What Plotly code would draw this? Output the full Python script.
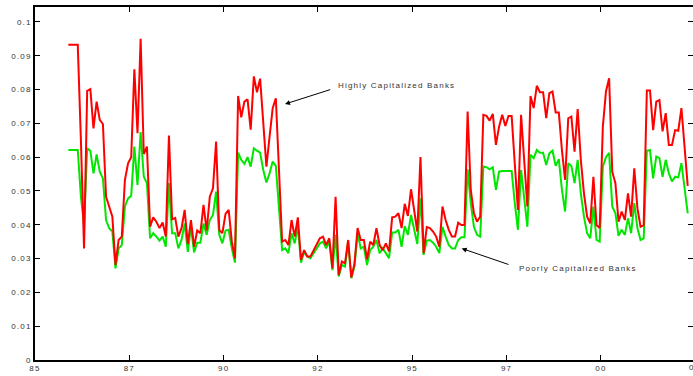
import plotly.graph_objects as go

# Monthly bank-level ratio series, starting late 1985
start_year = 1985 + 10.6 / 12

highly_capitalized = [
    0.0932, 0.0932, 0.0932, 0.0932, 0.0650, 0.0330, 0.0796, 0.0801, 0.0685, 0.0764,
    0.0710, 0.0698, 0.0483, 0.0454, 0.0424, 0.0281, 0.0355, 0.0365, 0.0533, 0.0582,
    0.0600, 0.0860, 0.0671, 0.0950, 0.0609, 0.0631, 0.0394, 0.0422, 0.0409, 0.0390,
    0.0407, 0.0365, 0.0664, 0.0416, 0.0420, 0.0365, 0.0390, 0.0444, 0.0343, 0.0414,
    0.0335, 0.0383, 0.0375, 0.0459, 0.0383, 0.0483, 0.0508, 0.0646, 0.0385, 0.0375,
    0.0432, 0.0444, 0.0350, 0.0301, 0.0781, 0.0718, 0.0764, 0.0771, 0.0681, 0.0839,
    0.0792, 0.0832, 0.0700, 0.0572, 0.0660, 0.0745, 0.0774, 0.0562, 0.0350, 0.0355,
    0.0340, 0.0414, 0.0365, 0.0422, 0.0296, 0.0325, 0.0306, 0.0306, 0.0325, 0.0345,
    0.0360, 0.0365, 0.0340, 0.0360, 0.0271, 0.0483, 0.0251, 0.0291, 0.0286, 0.0355,
    0.0244, 0.0284, 0.0390, 0.0355, 0.0355, 0.0298, 0.0350, 0.0340, 0.0390, 0.0340,
    0.0325, 0.0345, 0.0321, 0.0422, 0.0424, 0.0434, 0.0390, 0.0462, 0.0426, 0.0505,
    0.0439, 0.0380, 0.0600, 0.0316, 0.0393, 0.0390, 0.0380, 0.0365, 0.0335, 0.0454,
    0.0414, 0.0385, 0.0365, 0.0365, 0.0406, 0.0399, 0.0399, 0.0735, 0.0503, 0.0434,
    0.0409, 0.0424, 0.0725, 0.0722, 0.0708, 0.0728, 0.0636, 0.0690, 0.0725, 0.0692,
    0.0722, 0.0722, 0.0580, 0.0444, 0.0725, 0.0600, 0.0454, 0.0781, 0.0745, 0.0811,
    0.0792, 0.0792, 0.0715, 0.0789, 0.0794, 0.0732, 0.0732, 0.0620, 0.0533, 0.0715,
    0.0720, 0.0616, 0.0742, 0.0592, 0.0493, 0.0424, 0.0404, 0.0542, 0.0399, 0.0390,
    0.0690, 0.0794, 0.0833, 0.0557, 0.0523, 0.0409, 0.0439, 0.0414, 0.0493, 0.0424,
    0.0567, 0.0449, 0.0394, 0.0399, 0.0797, 0.0797, 0.0680, 0.0764, 0.0769, 0.0676,
    0.0730, 0.0636, 0.0636, 0.0680, 0.0678, 0.0745, 0.0631, 0.0515,
]

poorly_capitalized = [
    0.0621, 0.0621, 0.0621, 0.0621, 0.0483, 0.0400, 0.0626, 0.0619, 0.0552, 0.0608,
    0.0557, 0.0537, 0.0414, 0.0390, 0.0380, 0.0271, 0.0330, 0.0340, 0.0454, 0.0478,
    0.0486, 0.0631, 0.0518, 0.0674, 0.0542, 0.0523, 0.0360, 0.0375, 0.0365, 0.0353,
    0.0365, 0.0335, 0.0523, 0.0375, 0.0375, 0.0330, 0.0355, 0.0404, 0.0320, 0.0394,
    0.0318, 0.0347, 0.0347, 0.0404, 0.0370, 0.0414, 0.0429, 0.0498, 0.0370, 0.0345,
    0.0383, 0.0385, 0.0330, 0.0288, 0.0613, 0.0592, 0.0580, 0.0600, 0.0572, 0.0626,
    0.0619, 0.0613, 0.0562, 0.0525, 0.0552, 0.0587, 0.0574, 0.0454, 0.0325, 0.0330,
    0.0316, 0.0375, 0.0345, 0.0394, 0.0288, 0.0320, 0.0306, 0.0301, 0.0316, 0.0330,
    0.0345, 0.0350, 0.0330, 0.0350, 0.0266, 0.0370, 0.0247, 0.0281, 0.0276, 0.0350,
    0.0242, 0.0276, 0.0375, 0.0330, 0.0335, 0.0281, 0.0325, 0.0335, 0.0355, 0.0316,
    0.0330, 0.0316, 0.0301, 0.0377, 0.0377, 0.0385, 0.0335, 0.0396, 0.0370, 0.0429,
    0.0385, 0.0343, 0.0478, 0.0311, 0.0353, 0.0355, 0.0347, 0.0335, 0.0316, 0.0394,
    0.0365, 0.0340, 0.0330, 0.0330, 0.0355, 0.0363, 0.0363, 0.0564, 0.0464, 0.0394,
    0.0370, 0.0365, 0.0572, 0.0570, 0.0564, 0.0570, 0.0503, 0.0557, 0.0559, 0.0559,
    0.0559, 0.0559, 0.0464, 0.0385, 0.0562, 0.0473, 0.0394, 0.0607, 0.0597, 0.0621,
    0.0613, 0.0613, 0.0577, 0.0611, 0.0619, 0.0574, 0.0594, 0.0503, 0.0439, 0.0582,
    0.0574, 0.0523, 0.0592, 0.0493, 0.0424, 0.0375, 0.0360, 0.0454, 0.0355, 0.0350,
    0.0572, 0.0600, 0.0613, 0.0454, 0.0434, 0.0367, 0.0385, 0.0370, 0.0419, 0.0375,
    0.0464, 0.0390, 0.0355, 0.0360, 0.0619, 0.0621, 0.0537, 0.0602, 0.0597, 0.0542,
    0.0592, 0.0552, 0.0528, 0.0542, 0.0540, 0.0582, 0.0513, 0.0434,
]

months = [start_year + k / 12 for k in range(len(highly_capitalized))]

x_tickvals = [1985, 1987.5, 1990, 1992.5, 1995, 1997.5, 2000]
x_ticktext = ["85", "87", "90", "92", "95", "97", "00"]
y_tickvals = [0, 0.01, 0.02, 0.03, 0.04, 0.05, 0.06, 0.07, 0.08, 0.09, 0.1]
y_ticktext = ["0", "0.01", "0.02", "0.03", "0.04", "0.05", "0.06", "0.07", "0.08", "0.09", "0.1"]

X_RANGE = [1985, 2002.44]
Y_RANGE = [0, 0.1044]
SPACED = '<span style="letter-spacing:1.2px">{}</span>'
TEXT_FONT = dict(family="Liberation Sans, Arial, sans-serif", size=8, color="#333333")

fig = go.Figure()
fig.add_trace(go.Scatter(
    x=months, y=poorly_capitalized, mode="lines",
    line=dict(color="#00e600", width=2), name="Poorly Capitalized Banks",
    yaxis="y",
))
fig.add_trace(go.Scatter(
    x=months, y=highly_capitalized, mode="lines",
    line=dict(color="#ff0000", width=2), name="Highly Capitalized Banks",
    yaxis="y2",
))

fig.update_layout(
    width=693, height=376,
    margin=dict(l=35, r=0, t=7, b=16),
    paper_bgcolor="white", plot_bgcolor="white",
    showlegend=False,
    font=TEXT_FONT,
    xaxis=dict(
        range=X_RANGE, tickvals=x_tickvals,
        ticktext=[SPACED.format(t) for t in x_ticktext],
        showgrid=False, zeroline=False,
        showline=True, linecolor="black", linewidth=1.5, mirror="ticks",
        ticks="inside", ticklen=5, tickcolor="black", tickwidth=1,
        tickfont=TEXT_FONT,
    ),
    yaxis=dict(
        range=Y_RANGE, tickvals=y_tickvals,
        ticktext=[SPACED.format(t) for t in y_ticktext],
        showgrid=False, zeroline=False,
        showline=True, linecolor="black", linewidth=1.5,
        ticks="inside", ticklen=5, tickcolor="black", tickwidth=1,
        tickfont=TEXT_FONT,
    ),
    yaxis2=dict(
        range=Y_RANGE, tickvals=y_tickvals, overlaying="y", side="right",
        showgrid=False, zeroline=False, showline=False, showticklabels=False,
        ticks="inside", ticklen=5, tickcolor="black", tickwidth=1,
    ),
)

# Partially visible last year label at the right edge
fig.add_annotation(
    text=SPACED.format("02"), xref="paper", yref="paper", x=1.003, y=0,
    xanchor="center", yanchor="top", yshift=-1, showarrow=False, font=TEXT_FONT,
)

# Series labels with pointer arrows
fig.add_annotation(
    x=1991.626, y=0.0757, ax=1992.864, ay=0.0801, xref="x", yref="y",
    axref="x", ayref="y", text="", showarrow=True,
    arrowhead=2, arrowsize=1, arrowwidth=1, arrowcolor="black", standoff=0,
)
fig.add_annotation(
    x=1992.97, y=0.0811, xref="x", yref="y", xanchor="left", yanchor="middle",
    text=SPACED.format("Highly Capitalized Banks"), showarrow=False, font=TEXT_FONT,
)
fig.add_annotation(
    x=1996.309, y=0.0330, ax=1997.589, ay=0.0281, xref="x", yref="y",
    axref="x", ayref="y", text="", showarrow=True,
    arrowhead=2, arrowsize=1, arrowwidth=1, arrowcolor="black", standoff=0,
)
fig.add_annotation(
    x=1997.767, y=0.0271, xref="x", yref="y", xanchor="left", yanchor="middle",
    text=SPACED.format("Poorly Capitalized Banks"), showarrow=False, font=TEXT_FONT,
)

fig.write_html("out.html")
